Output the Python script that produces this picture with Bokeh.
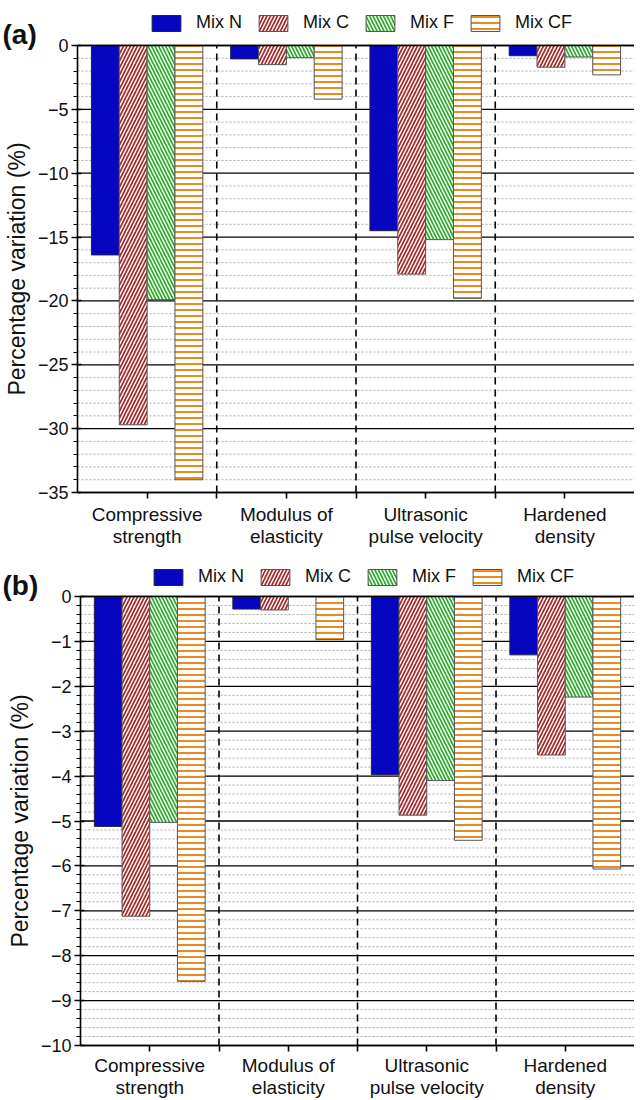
import numpy as np
from bokeh.plotting import figure
from bokeh.models import (ColumnDataSource, FixedTicker, Legend, LegendItem,
                          Label, Range1d)
from bokeh.layouts import column
from bokeh.embed import file_html
from bokeh.resources import INLINE

# ---------------- data ----------------
categories = ["Compressive strength", "Modulus of elasticity",
              "Ultrasonic pulse velocity", "Hardened density"]
category_labels = ["Compressive\nstrength", "Modulus of\nelasticity",
                   "Ultrasonic\npulse velocity", "Hardened\ndensity"]
mixes = ["Mix N", "Mix C", "Mix F", "Mix CF"]

# panel (a)
a_mix_n = [-16.4, -1.05, -14.5, -0.8]
a_mix_c = [-29.7, -1.5, -17.9, -1.7]
a_mix_f = [-19.9, -0.95, -15.2, -0.9]
a_mix_cf = [-34.0, -4.2, -19.8, -2.3]

# panel (b)
b_mix_n = [-5.12, -0.28, -3.97, -1.3]
b_mix_c = [-7.12, -0.30, -4.87, -3.53]
b_mix_f = [-5.03, 0.0, -4.10, -2.24]
b_mix_cf = [-8.57, -0.96, -5.43, -6.07]

a_yticks = [-35, -30, -25, -20, -15, -10, -5, 0]
b_yticks = [-10, -9, -8, -7, -6, -5, -4, -3, -2, -1, 0]

FONT = "Liberation Sans"
W = 634
TXT = "#111111"

styles = [
    dict(fill_color="#0606c0", line_color="#20204a"),
    dict(fill_color="white", hatch_pattern="/", hatch_color="#a52a2a",
         hatch_scale=7, hatch_weight=1.7, line_color="#555555"),
    dict(fill_color="white", hatch_pattern="\\", hatch_color="#2eaa2e",
         hatch_scale=7, hatch_weight=1.7, line_color="#555555"),
    dict(fill_color="white", hatch_pattern="-", hatch_color="#ea8a22",
         hatch_scale=6, hatch_weight=2.0, line_color="#555555"),
]
offsets = [-0.3, -0.1, 0.1, 0.3]


def minus(v):
    return ("%g" % v).replace("-", "\u2212")


def make_panel(tag, series, yticks, minor_step, fig_h, plot_left, plot_top,
               plot_bottom, legend_px, tag_px, label_standoff):
    """Whole canvas is the frame; axes are pinned with fixed_location."""
    ncat = len(categories)
    ymin = yticks[0]
    ppu_x = (W - plot_left) / ncat
    ppu_y = (plot_bottom - plot_top) / (0 - ymin)
    x_range = Range1d(-plot_left / ppu_x, ncat)
    y_range = Range1d(ymin - (fig_h - plot_bottom) / ppu_y, plot_top / ppu_y)

    p = figure(width=W, height=fig_h, output_backend="svg",
               toolbar_location=None, x_range=x_range, y_range=y_range,
               min_border=0, background_fill_color="white",
               border_fill_color="white")
    p.outline_line_color = None
    p.xgrid.visible = False
    p.ygrid.visible = False

    # grid lines, limited to the plotting area
    minors = np.round(np.arange(ymin, 0.0001, minor_step), 6)
    minors_only = [m for m in minors if not np.isclose(m, yticks).any()]
    p.segment(x0=0, x1=ncat, y0=minors_only, y1=minors_only,
              line_color="#a8a8a8", line_dash="2 2", line_width=1)
    p.segment(x0=0, x1=ncat, y0=yticks, y1=yticks, line_color="black",
              line_width=1.3)

    centers = np.arange(ncat) + 0.5
    items = []
    for vals, name, off, st in zip(series, mixes, offsets, styles):
        src = ColumnDataSource(dict(x=centers + off, top=vals,
                                    cat=categories))
        r = p.vbar(x="x", top="top", bottom=0, width=0.2, source=src,
                   line_width=1, **st)
        items.append(LegendItem(label=name, renderers=[r]))

    # dashed separators between categories
    seps = list(range(1, ncat))
    p.segment(x0=seps, x1=seps, y0=ymin, y1=0, line_color="black",
              line_dash="7 5", line_width=1.6)
    p.segment(x0=0, x1=ncat, y0=0, y1=0, line_color="black", line_width=1.6)

    # y axis
    p.yaxis.fixed_location = 0
    p.yaxis.bounds = (ymin, 0)
    p.yaxis.ticker = FixedTicker(ticks=yticks, minor_ticks=list(minors))
    p.yaxis.major_label_overrides = {t: minus(t) for t in yticks}
    p.yaxis.axis_label = "Percentage variation (%)"
    p.yaxis.axis_label_text_font = FONT
    p.yaxis.axis_label_text_font_style = "normal"
    p.yaxis.axis_label_text_font_size = "23px"
    p.yaxis.axis_label_text_color = TXT
    p.yaxis.axis_label_standoff = 5
    p.yaxis.major_label_text_font = FONT
    p.yaxis.major_label_text_font_size = "18px"
    p.yaxis.major_label_text_color = TXT
    p.yaxis.axis_line_width = 1.6
    p.yaxis.major_tick_in = 4
    p.yaxis.major_tick_out = 6
    p.yaxis.major_tick_line_width = 1.6
    p.yaxis.minor_tick_in = 0
    p.yaxis.minor_tick_out = 4
    p.yaxis.minor_tick_line_width = 1.2
    p.yaxis.major_label_standoff = 3

    # x axis
    p.xaxis.fixed_location = ymin
    p.xaxis.bounds = (0, ncat)
    p.xaxis.ticker = FixedTicker(ticks=list(centers), minor_ticks=seps)
    p.xaxis.major_label_overrides = {float(c): lab for c, lab in
                                     zip(centers, category_labels)}
    p.xaxis.major_label_text_font = FONT
    p.xaxis.major_label_text_font_size = "19px"
    p.xaxis.major_label_text_line_height = 1.05
    p.xaxis.major_label_text_color = TXT
    p.xaxis.axis_line_width = 1.6
    p.xaxis.major_tick_in = 0
    p.xaxis.major_tick_out = 6
    p.xaxis.major_tick_line_width = 1.6
    p.xaxis.minor_tick_in = 0
    p.xaxis.minor_tick_out = 6
    p.xaxis.minor_tick_line_width = 1.6
    p.xaxis.major_label_standoff = label_standoff

    # legend above the plotting area
    legend = Legend(items=items, orientation="horizontal",
                    location=(legend_px[0], fig_h - legend_px[1]))
    legend.border_line_color = None
    legend.background_fill_alpha = 0
    legend.label_text_font = FONT
    legend.label_text_font_size = "18px"
    legend.label_text_color = TXT
    legend.glyph_width = 36
    legend.glyph_height = 20
    legend.label_height = 20
    legend.label_standoff = 12
    legend.spacing = 13
    legend.padding = 0
    legend.margin = 0
    p.add_layout(legend)

    # panel tag
    p.add_layout(Label(x=(tag_px[0] - plot_left) / ppu_x,
                       y=(plot_top - tag_px[1]) / ppu_y,
                       text=tag, text_font=FONT, text_font_style="bold",
                       text_font_size="28px", text_baseline="middle",
                       text_align="left", text_color=TXT))
    return p


pa = make_panel("(a)", [a_mix_n, a_mix_c, a_mix_f, a_mix_cf], a_yticks, 1.0,
                551, 77, 45, 492, (148, 33), (2, 34), 5)
pb = make_panel("(b)", [b_mix_n, b_mix_c, b_mix_f, b_mix_cf], b_yticks, 0.2,
                548, 80, 45, 494, (150, 36), (2, 34), 3)

layout = column(pa, pb, spacing=0)
open("out.html", "w").write(file_html(layout, INLINE))
